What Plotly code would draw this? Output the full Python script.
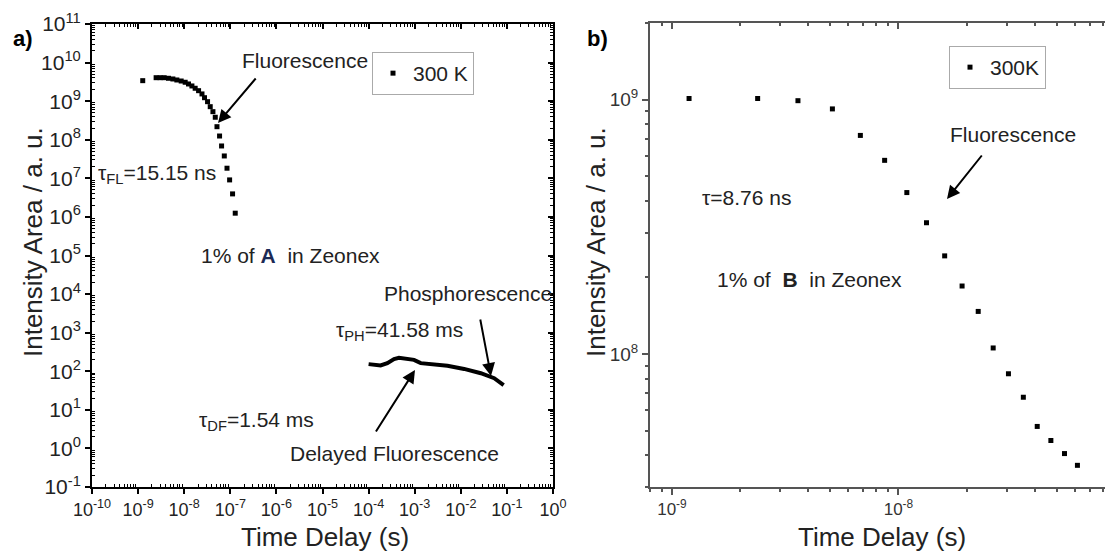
import numpy as np
import plotly.graph_objects as go

W, H = 1105, 553

# ---------------- data: panel a (1% of A in Zeonex, 300 K) ----------------
a_fl_time = [1.26e-9, 2.46e-9, 3.0e-9, 3.67e-9, 4.56e-9, 5.68e-9, 6.93e-9, 8.6e-9,
             1.05e-8, 1.24e-8, 1.47e-8, 1.73e-8, 2.05e-8, 2.43e-8, 2.76e-8, 3.21e-8,
             3.67e-8, 4.2e-8, 4.72e-8, 5.14e-8, 5.85e-8, 6.47e-8, 7.41e-8, 8.48e-8,
             9.66e-8, 1.12e-7, 1.28e-7]
a_fl_int = [3.4e9, 4.06e9, 4.06e9, 4.06e9, 3.92e9, 3.76e9, 3.54e9, 3.33e9,
            3.09e9, 2.79e9, 2.48e9, 2.16e9, 1.87e9, 1.54e9, 1.23e9, 9.7e8,
            7.2e8, 5.35e8, 3.83e8, 2.18e8, 1.25e8, 6.9e7, 3.8e7, 1.83e7,
            9.1e6, 3.95e6, 1.25e6]
a_df_time = [1.0e-4, 1.5e-4, 1.82e-4, 2.55e-4, 3.56e-4, 4.56e-4, 6.37e-4, 9.66e-4,
             1.35e-3, 2.23e-3, 5.13e-3, 1.18e-2, 2.72e-2, 5.3e-2, 8.5e-2]
a_df_int = [153, 150, 141, 162, 206, 222, 213, 197,
            162, 153, 138, 115, 89, 66, 44]

# ---------------- data: panel b (1% of B in Zeonex, 300K) ----------------
b_time = [1.19e-9, 2.39e-9, 3.60e-9, 5.11e-9, 6.79e-9, 8.69e-9, 1.089e-8, 1.33e-8,
          1.60e-8, 1.91e-8, 2.25e-8, 2.62e-8, 3.06e-8, 3.56e-8, 4.10e-8, 4.71e-8,
          5.41e-8, 6.17e-8]
b_int = [1.01e9, 1.01e9, 9.9e8, 9.19e8, 7.23e8, 5.77e8, 4.31e8, 3.28e8,
         2.43e8, 1.85e8, 1.47e8, 1.056e8, 8.36e7, 6.76e7, 5.19e7, 4.57e7,
         4.06e7, 3.65e7]

# tick exponents
a_x_exp = list(range(-10, 1))
a_y_exp = list(range(-1, 12))
b_x_exp = [-9, -8]
b_y_exp = [8, 9]

FONT = "Liberation Sans, Arial, sans-serif"


def px(x):
    return x / W


def py(y):
    return 1 - y / H


def vals(exps):
    return [10.0 ** e for e in exps]


def labels(exps):
    return ["10<sup>%d</sup>" % e for e in exps]


def minors(lo, hi):
    return [m * 10.0 ** e for e in range(lo, hi + 1) for m in range(2, 10)]


fig = go.Figure()

fig.add_trace(go.Scatter(x=a_fl_time, y=a_fl_int, mode="markers", name="300 K",
                         marker=dict(symbol="square", size=5, color="black"),
                         xaxis="x", yaxis="y", legend="legend"))
fig.add_trace(go.Scatter(x=a_df_time, y=a_df_int, mode="lines", showlegend=False,
                         line=dict(color="black", width=4),
                         xaxis="x", yaxis="y"))
fig.add_trace(go.Scatter(x=[], y=[], xaxis="x3", yaxis="y3", showlegend=False))
fig.add_trace(go.Scatter(x=b_time, y=b_int, mode="markers", name="300K",
                         marker=dict(symbol="square", size=5, color="black"),
                         xaxis="x2", yaxis="y2", legend="legend2"))
fig.add_trace(go.Scatter(x=[], y=[], xaxis="x4", yaxis="y4", showlegend=False))

dom_a_x = [px(92), px(553)]
dom_a_y = [py(487), py(24)]
dom_b_x = [px(650), 1.0]
dom_b_y = [py(487), py(23)]

ax_a = dict(type="log", showgrid=False, zeroline=False, showline=True,
            linecolor="black", linewidth=2, ticks="outside", ticklen=5,
            tickwidth=1.5, tickcolor="black", tickangle=0, automargin=False,
            tickfont=dict(family=FONT, size=18, color="#222"))

xa_range = [-10, 0]
ya_range = [-1, 11]

fig.update_layout(
    xaxis=dict(ax_a, domain=dom_a_x, range=xa_range, anchor="y",
               tickmode="array", tickvals=vals(a_x_exp), ticktext=labels(a_x_exp),
               minor=dict(tickvals=minors(-10, -1), ticks="inside", ticklen=3,
                          tickcolor="black", tickwidth=1)),
    yaxis=dict(ax_a, domain=dom_a_y, range=ya_range, anchor="x",
               tickmode="array", tickvals=vals(a_y_exp), ticktext=labels(a_y_exp),
               tickfont=dict(family=FONT, size=21, color="#222"),
               minor=dict(tickvals=minors(-1, 10), ticks="inside", ticklen=3,
                          tickcolor="black", tickwidth=1)),
    xaxis3=dict(type="log", overlaying="x", side="top", anchor="y3",
                range=xa_range, showgrid=False, zeroline=False, showline=True,
                linecolor="black", linewidth=2, ticks="inside", ticklen=5,
                tickwidth=1.5, tickcolor="black", showticklabels=False,
                tickmode="array", tickvals=vals(a_x_exp), automargin=False,
                minor=dict(tickvals=minors(-10, -1), ticks="inside", ticklen=3,
                           tickcolor="black", tickwidth=1)),
    yaxis3=dict(type="log", overlaying="y", side="right", anchor="x3",
                range=ya_range, showgrid=False, zeroline=False, showline=True,
                linecolor="black", linewidth=2, ticks="inside", ticklen=5,
                tickwidth=1.5, tickcolor="black", showticklabels=False,
                tickmode="array", tickvals=vals(a_y_exp), automargin=False,
                minor=dict(tickvals=minors(-1, 10), ticks="inside", ticklen=3,
                           tickcolor="black", tickwidth=1)),
)

xb_range = [np.log10(8e-10), -7.088]
yb_range = [np.log10(3e7), np.log10(2e9)]
GB = "#555555"
ax_b = dict(type="log", showgrid=False, zeroline=False, showline=True,
            linecolor=GB, linewidth=2, ticks="outside", ticklen=6,
            tickwidth=1.5, tickcolor=GB, tickangle=0, automargin=False,
            tickfont=dict(family=FONT, size=17, color="#333"))

fig.update_layout(
    xaxis2=dict(ax_b, domain=dom_b_x, range=xb_range, anchor="y2",
                tickmode="array", tickvals=vals(b_x_exp), ticktext=labels(b_x_exp),
                minor=dict(tickvals=minors(-10, -8), ticks="outside", ticklen=3,
                           tickcolor=GB, tickwidth=1.5)),
    yaxis2=dict(ax_b, domain=dom_b_y, range=yb_range, anchor="x2",
                tickmode="array", tickvals=vals(b_y_exp), ticktext=labels(b_y_exp),
                tickfont=dict(family=FONT, size=19, color="#333"),
                minor=dict(tickvals=minors(7, 9), ticks="outside", ticklen=3,
                           tickcolor=GB, tickwidth=1.5)),
    xaxis4=dict(type="log", overlaying="x2", side="top", anchor="y4",
                range=xb_range, showgrid=False, zeroline=False, showline=True,
                linecolor=GB, linewidth=2, ticks="inside", ticklen=6,
                tickwidth=1.5, tickcolor=GB, showticklabels=False,
                tickmode="array", tickvals=vals(b_x_exp), automargin=False,
                minor=dict(tickvals=minors(-10, -8), ticks="inside", ticklen=3,
                           tickcolor=GB, tickwidth=1.5)),
    yaxis4=dict(type="log", overlaying="y2", side="right", anchor="x4",
                range=yb_range, showgrid=False, zeroline=False, showline=False,
                showticklabels=False, ticks="", automargin=False),
)

fig.update_layout(
    width=W, height=H,
    margin=dict(l=0, r=0, t=0, b=0, pad=0, autoexpand=False),
    paper_bgcolor="white", plot_bgcolor="white",
    font=dict(family=FONT, color="#222"),
    legend=dict(x=px(372), y=py(52), xanchor="left", yanchor="top",
                bgcolor="white", bordercolor="#aaaaaa", borderwidth=1,
                font=dict(family=FONT, size=21, color="#222"),
                itemwidth=30, tracegroupgap=0),
    legend2=dict(x=px(949), y=py(46), xanchor="left", yanchor="top",
                 bgcolor="white", bordercolor="#aaaaaa", borderwidth=1,
                 font=dict(family=FONT, size=21, color="#222"),
                 itemwidth=30, tracegroupgap=0),
)

TS = 21
anns = []


def text(t, x, y, size=TS, xanchor="left", bold=False, angle=0):
    anns.append(dict(text=("<b>%s</b>" % t) if bold else t, x=px(x), y=py(y),
                     xref="paper", yref="paper", xanchor=xanchor, yanchor="middle",
                     showarrow=False, textangle=angle,
                     font=dict(family=FONT, size=size, color="#222" if not bold else "black")))


def arrow(tail, tip):
    anns.append(dict(text="", x=px(tip[0]), y=py(tip[1]), xref="paper", yref="paper",
                     ax=tail[0] - tip[0], ay=tail[1] - tip[1], axref="pixel", ayref="pixel",
                     showarrow=True, arrowhead=2, arrowsize=1.3, arrowwidth=2,
                     arrowcolor="black"))


# panel labels
text("a)", 23, 38, size=22, xanchor="center", bold=True)
text("b)", 597, 38, size=22, xanchor="center", bold=True)

# axis titles
text("Intensity Area / a. u.", 33, 242, size=26, xanchor="center", angle=-90)
text("Time Delay (s)", 325, 537, size=26, xanchor="center")
text("Intensity Area / a. u.", 596, 242, size=26, xanchor="center", angle=-90)
text("Time Delay (s)", 882, 537, size=26, xanchor="center")

# panel a annotations
text("Fluorescence", 240, 60)
arrow((257, 77), (218, 123))
text("τ<sub>FL</sub>=15.15 ns", 96, 174)
text("1% of <b><span style='color:#1b2a55'>A</span></b>  in Zeonex", 199, 255)
text("Phosphorescence", 382, 293)
text("τ<sub>PH</sub>=41.58 ms", 334, 331)
arrow((480, 318), (491, 376))
text("τ<sub>DF</sub>=1.54 ms", 197, 421)
text("Delayed Fluorescence", 288, 453)
arrow((375, 433), (415, 370))

# panel b annotations
text("Fluorescence", 948, 134)
arrow((983, 154), (947, 199))
text("τ=8.76 ns", 700, 198)
text("1% of  <b>B</b>  in Zeonex", 715, 279)

fig.update_layout(annotations=anns)

fig.write_html("out.html")
